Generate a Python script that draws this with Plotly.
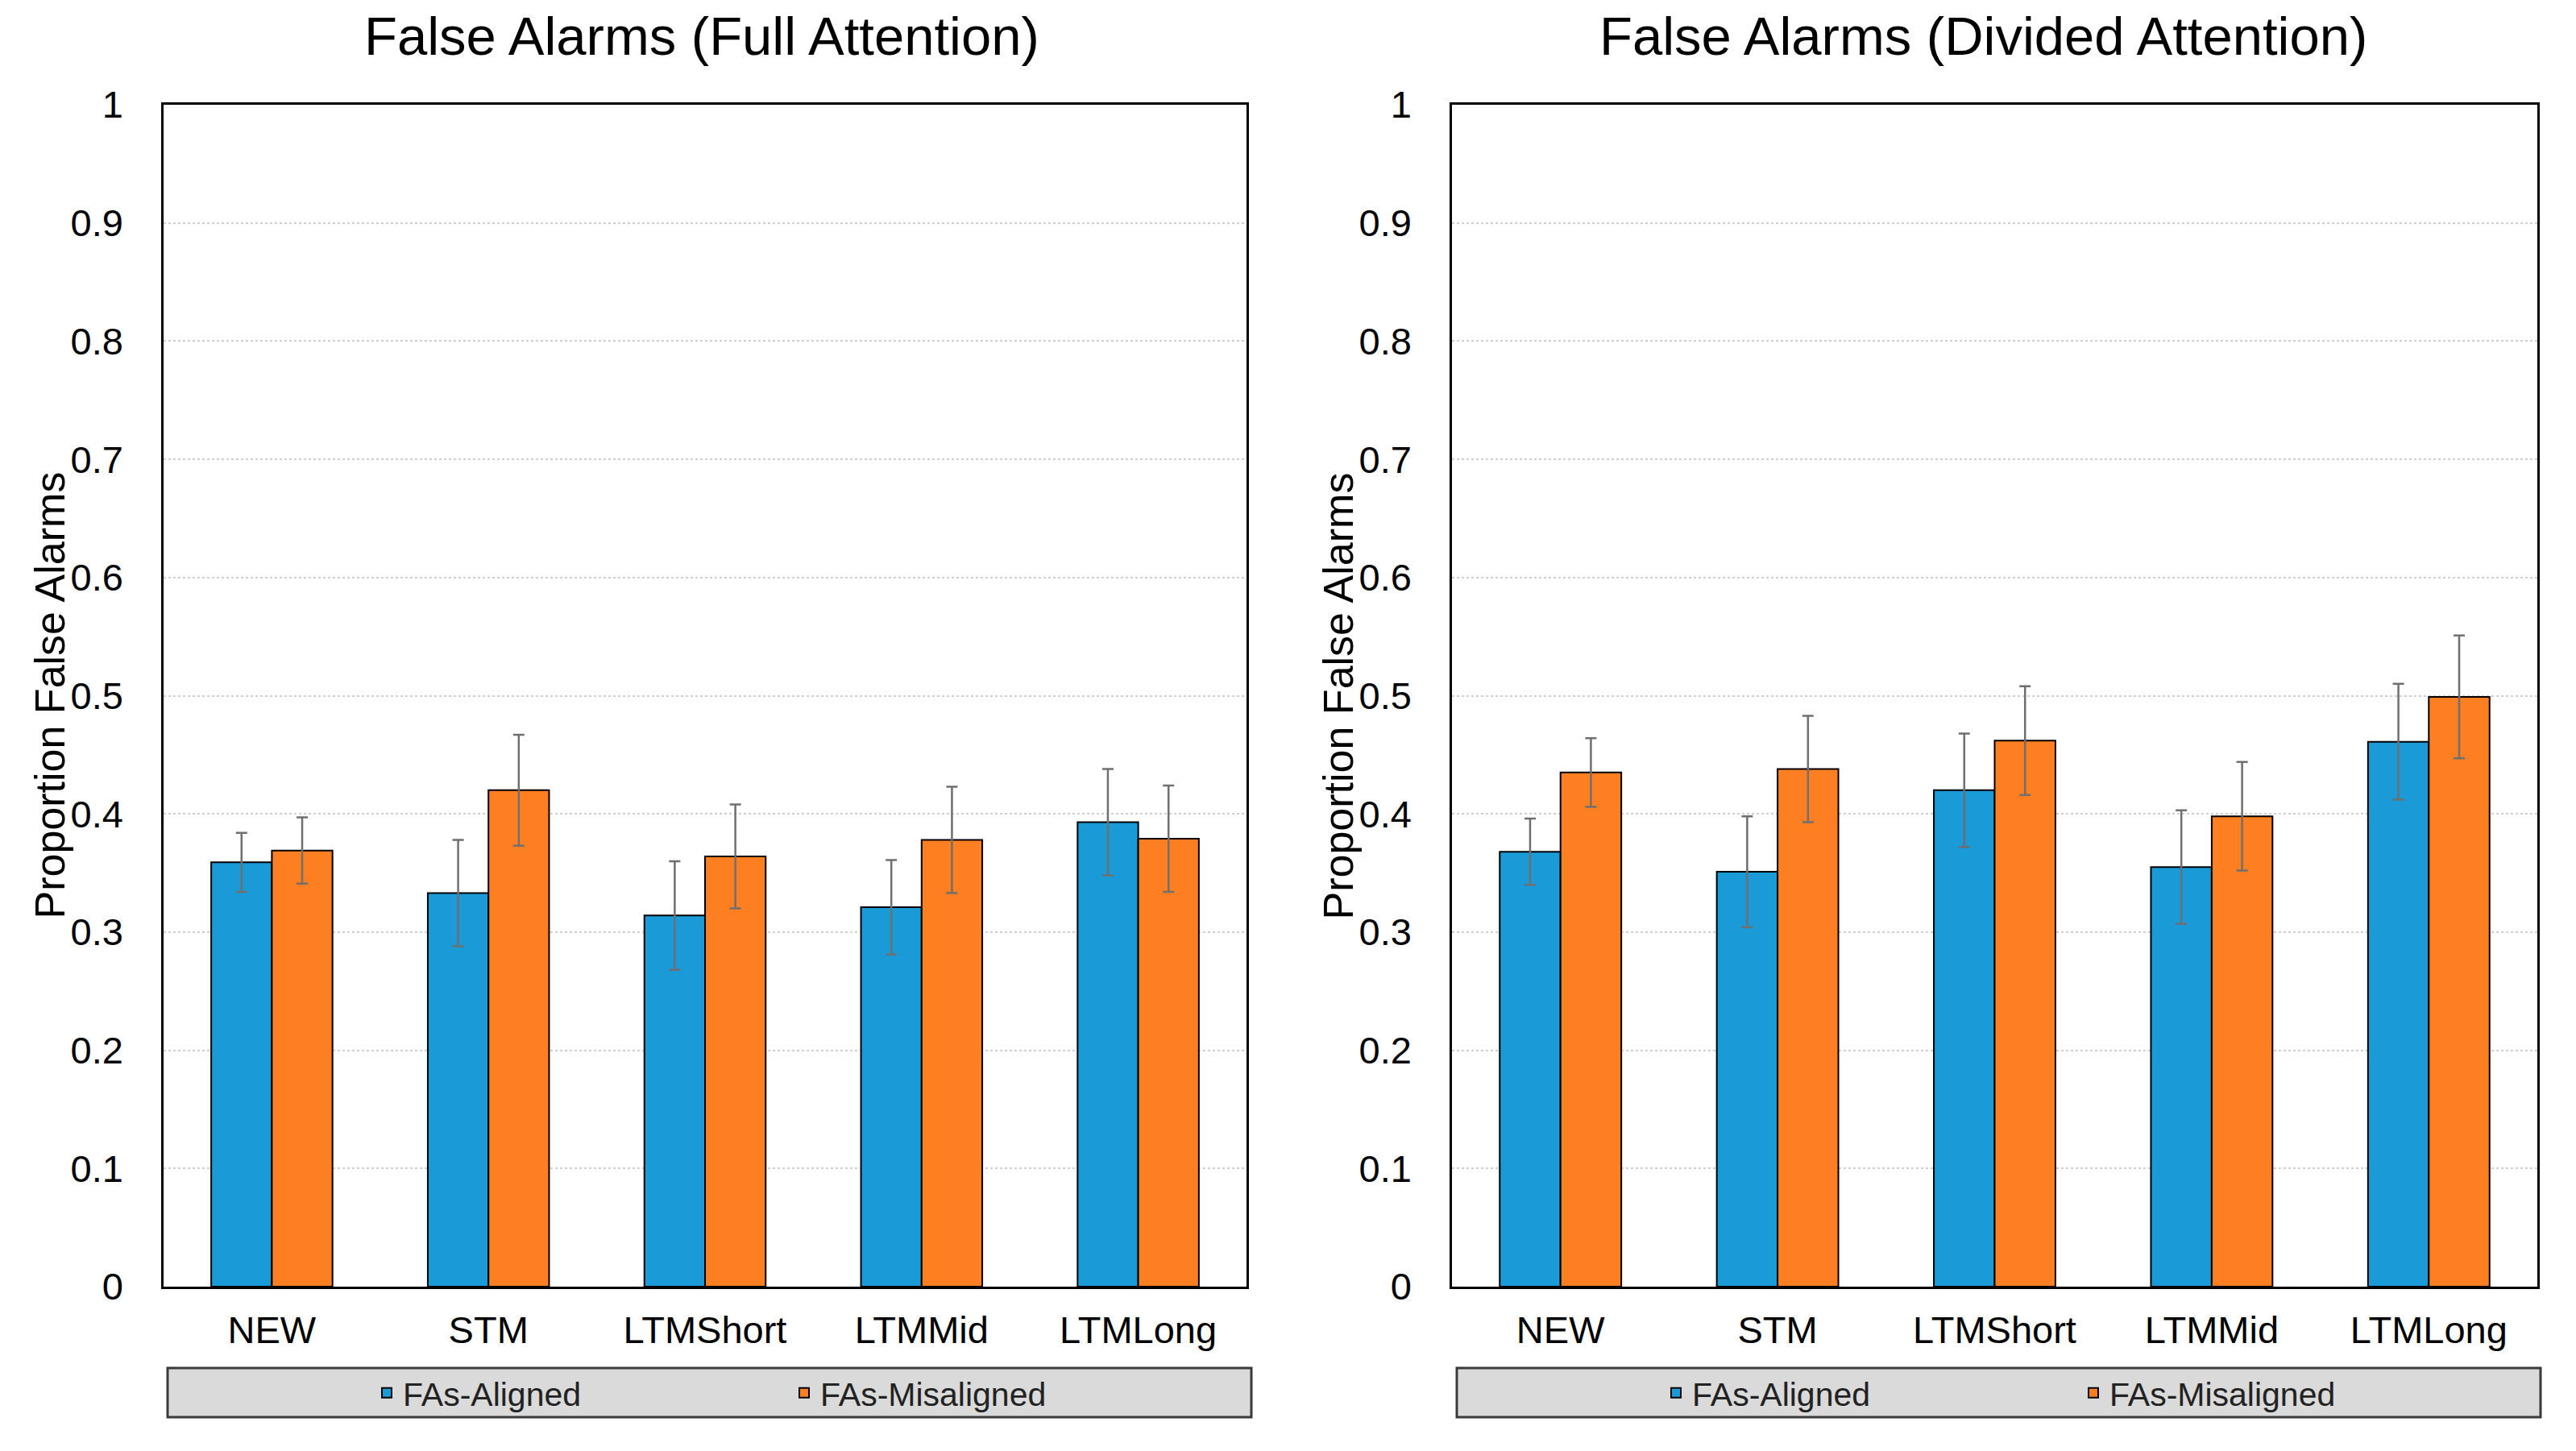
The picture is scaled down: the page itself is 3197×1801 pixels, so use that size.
import plotly.graph_objects as go

categories = ["NEW", "STM", "LTMShort", "LTMMid", "LTMLong"]

full_aligned = [0.359, 0.333, 0.314, 0.321, 0.393]
full_aligned_err = [0.025, 0.045, 0.046, 0.040, 0.045]
full_misaligned = [0.369, 0.420, 0.364, 0.378, 0.379]
full_misaligned_err = [0.028, 0.047, 0.044, 0.045, 0.045]

div_aligned = [0.368, 0.351, 0.420, 0.355, 0.461]
div_aligned_err = [0.028, 0.047, 0.048, 0.048, 0.049]
div_misaligned = [0.435, 0.438, 0.462, 0.398, 0.499]
div_misaligned_err = [0.029, 0.045, 0.046, 0.046, 0.052]

series_names = ["FAs-Aligned", "FAs-Misaligned"]
titles = ["False Alarms (Full Attention)", "False Alarms (Divided Attention)"]
y_title = "Proportion False Alarms"

BLUE = "#1a9bd7"
ORANGE = "#fe7f22"
FONT = "Liberation Sans, Arial, sans-serif"

W, H = 3197, 1801

fig = go.Figure()

def add_bars(vals, errs, name, color, xa, ya, legend):
    fig.add_trace(go.Bar(
        x=categories, y=vals, name=name, xaxis=xa, yaxis=ya, legend=legend,
        marker=dict(color=color, line=dict(color="black", width=2)),
        error_y=dict(type="data", array=errs, visible=True, color="#6f6f6f",
                     thickness=2.5, width=7),
    ))

add_bars(full_aligned, full_aligned_err, series_names[0], BLUE, "x", "y", "legend")
add_bars(full_misaligned, full_misaligned_err, series_names[1], ORANGE, "x", "y", "legend")
add_bars(div_aligned, div_aligned_err, series_names[0], BLUE, "x2", "y2", "legend2")
add_bars(div_misaligned, div_misaligned_err, series_names[1], ORANGE, "x2", "y2", "legend2")

# pixel geometry -> paper
def px(x):
    return x / W

def py(y):
    return 1 - y / H

PLOT_LEFT = [203, 1802]
PLOT_RIGHT = [1547, 3149]
PLOT_TOP, PLOT_BOTTOM = 130, 1597

left_dom = [px(PLOT_LEFT[0]), px(PLOT_RIGHT[0])]
right_dom = [px(PLOT_LEFT[1]), px(PLOT_RIGHT[1])]
y_dom = [py(PLOT_BOTTOM), py(PLOT_TOP)]

xcommon = dict(showline=True, linecolor="black", linewidth=2.5, mirror=True, automargin=False,
               ticks="", tickfont=dict(size=47, color="black", family=FONT),
               ticklabelstandoff=11, showgrid=False)
ycommon = dict(range=[0, 1], dtick=0.1, showline=True, linecolor="black", linewidth=2.5,
               mirror=True, ticks="", tickfont=dict(size=47, color="black", family=FONT),
               showgrid=True, gridcolor="#cfcfcf", gridwidth=2, griddash="dot",
               ticklabelstandoff=38, zeroline=False, automargin=False)

legend_common = dict(orientation="h", xanchor="left", yanchor="middle",
                     bgcolor="rgba(0,0,0,0)", font=dict(size=41, family=FONT, color="#222"),
                     entrywidth=473, itemwidth=30)

fig.update_layout(
    width=W, height=H,
    margin=dict(l=0, r=0, t=0, b=0, autoexpand=False),
    paper_bgcolor="white", plot_bgcolor="white",
    font=dict(family=FONT, color="black"),
    barmode="group", bargap=0.44, bargroupgap=0,
    xaxis=dict(domain=left_dom, anchor="y", **xcommon),
    yaxis=dict(domain=y_dom, anchor="x", **ycommon),
    xaxis2=dict(domain=right_dom, anchor="y2", **xcommon),
    yaxis2=dict(domain=y_dom, anchor="x2", **ycommon),
    legend=dict(x=px(460), y=py(1729), **legend_common),
    legend2=dict(x=px(2060), y=py(1729), **legend_common),
    showlegend=True,
)

for x0, x1 in [(208, 1553), (1808, 3153)]:
    fig.add_shape(type="rect", xref="paper", yref="paper",
                  x0=px(x0), x1=px(x1), y0=py(1759), y1=py(1698),
                  fillcolor="#dadada", line=dict(color="#3a3a3a", width=3), layer="below")

for t, cx in zip(titles, [871, 2461]):
    fig.add_annotation(text=t, xref="paper", yref="paper", x=px(cx), y=py(45),
                       xanchor="center", yanchor="middle", showarrow=False,
                       font=dict(size=67, family=FONT, color="black"))

for pl in PLOT_LEFT:
    fig.add_annotation(text=y_title, xref="paper", yref="paper", x=px(pl - 142),
                       y=py((PLOT_TOP + PLOT_BOTTOM) / 2), textangle=-90,
                       xanchor="center", yanchor="middle", showarrow=False,
                       font=dict(size=52, family=FONT, color="black"))

fig.write_html("out.html", config={"displayModeBar": False},
               post_script="document.body.style.margin='0';")
